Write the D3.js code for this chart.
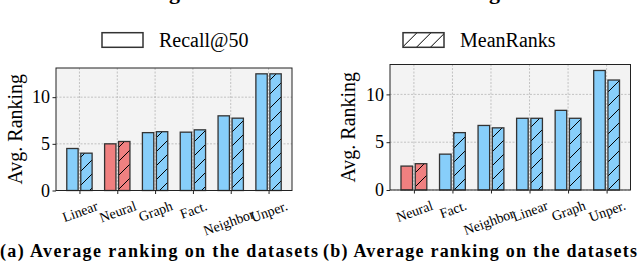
<!DOCTYPE html>
<html>
<head>
<meta charset="utf-8">
<script src="https://cdn.jsdelivr.net/npm/d3@7"></script>
<style>
  body { margin: 0; background: #fff; }
  svg { display: block; }
  svg text { font-family: "Liberation Serif", "Times New Roman", Times, "DejaVu Serif", serif; }
</style>
</head>
<body>
<svg id="chart" width="640" height="261"></svg>
<script>
// Panel (a)
const methodsA = ["Linear", "Neural", "Graph", "Fact.", "Neighbor", "Unper."];
const recallA = [4.5, 5.0, 6.2, 6.25, 8.0, 12.5];
const meanRanksA = [4.0, 5.25, 6.3, 6.5, 7.75, 12.5];

// Panel (b)
const methodsB = ["Neural", "Fact.", "Neighbor", "Linear", "Graph", "Unper."];
const recallB = [2.5, 3.75, 6.75, 7.5, 8.33, 12.5];
const meanRanksB = [2.75, 6.0, 6.5, 7.5, 7.5, 11.5];

const yTicks = [0, 5, 10];
const yMax = 13.125;
const seriesNames = ["Recall@50", "MeanRanks"];
const captions = ["(a) Average ranking on the datasets", "(b) Average ranking on the datasets"];

const blue = "#87cefa";
const red = "#f08080";
const edge = "#333";
const highlight = "Neural";
const dropLabels = new Set(["Neighbor"]);

const svg = d3.select("#chart");

// hatch pattern, aligned to the page like matplotlib hatches
const hatch = svg.append("defs")
  .append("pattern")
  .attr("id", "hatch")
  .attr("patternUnits", "userSpaceOnUse")
  .attr("width", 14)
  .attr("height", 14);
hatch.append("path")
  .attr("d", "M0,14L14,0M-3.5,3.5L3.5,-3.5M10.5,17.5L17.5,10.5")
  .attr("stroke", "#000")
  .attr("stroke-width", 1);

const panels = [
  { methods: methodsA, recall: recallA, mean: meanRanksA, box: [56, 68, 292, 190.5], legendX: 102, caption: captions[0], capX: 0, capW: 318, series: 0, ylabX: 21.5, titleX: 180 },
  { methods: methodsB, recall: recallB, mean: meanRanksB, box: [390, 64.5, 630.5, 190], legendX: 403, caption: captions[1], capX: 323, capW: 314, series: 1, ylabX: 355, titleX: 500 },
];

panels.forEach((p) => {
  const [x0, y0, x1, y1] = p.box;

  const x = d3.scalePoint().domain(p.methods).range([x0, x1]).padding(0.62);
  const y = d3.scaleLinear().domain([0, yMax]).range([y1, y0]);
  const step = x.step();
  const bw = step * 0.3;
  const off = step * 0.185;

  const g = svg.append("g");

  // cut-off title above the panel, only the descender shows
  g.append("text")
    .attr("x", p.titleX)
    .attr("y", -1)
    .attr("text-anchor", "end")
    .style("font-size", "22px")
    .style("font-weight", "bold")
    .text("Ranking");

  // background
  g.append("rect")
    .attr("x", x0).attr("y", y0)
    .attr("width", x1 - x0).attr("height", y1 - y0)
    .attr("fill", "#f3f3f3");

  // grid
  g.selectAll(".vgrid")
    .data(p.methods)
    .enter()
    .append("line")
    .attr("x1", (d) => x(d)).attr("x2", (d) => x(d))
    .attr("y1", y0).attr("y2", y1)
    .attr("stroke", "#b5b5b5")
    .attr("stroke-width", 0.8)
    .attr("stroke-dasharray", "2,1.5");
  g.selectAll(".hgrid")
    .data(yTicks)
    .enter()
    .append("line")
    .attr("x1", x0).attr("x2", x1)
    .attr("y1", (d) => y(d)).attr("y2", (d) => y(d))
    .attr("stroke", "#b5b5b5")
    .attr("stroke-width", 0.8)
    .attr("stroke-dasharray", "2,1.5");

  const colorOf = (m) => (m === highlight ? red : blue);

  // Recall@50 bars (solid)
  g.selectAll(".bar-r")
    .data(p.methods)
    .enter()
    .append("rect")
    .attr("x", (d) => x(d) - off - bw / 2)
    .attr("y", (d, i) => y(p.recall[i]))
    .attr("width", bw)
    .attr("height", (d, i) => y(0) - y(p.recall[i]))
    .attr("fill", (d) => colorOf(d))
    .attr("stroke", edge)
    .attr("stroke-width", 1.3);

  // MeanRanks bars (hatched)
  const mean = g.selectAll(".bar-m")
    .data(p.methods)
    .enter()
    .append("g");
  mean.append("rect")
    .attr("x", (d) => x(d) + off - bw / 2)
    .attr("y", (d, i) => y(p.mean[i]))
    .attr("width", bw)
    .attr("height", (d, i) => y(0) - y(p.mean[i]))
    .attr("fill", (d) => colorOf(d));
  mean.append("rect")
    .attr("x", (d) => x(d) + off - bw / 2)
    .attr("y", (d, i) => y(p.mean[i]))
    .attr("width", bw)
    .attr("height", (d, i) => y(0) - y(p.mean[i]))
    .attr("fill", "url(#hatch)")
    .attr("stroke", edge)
    .attr("stroke-width", 1.3);

  // frame
  g.append("rect")
    .attr("x", x0).attr("y", y0)
    .attr("width", x1 - x0).attr("height", y1 - y0)
    .attr("fill", "none")
    .attr("stroke", "#222")
    .attr("stroke-width", 1);

  // y axis
  const yAxis = g.append("g")
    .attr("transform", `translate(${x0},0)`)
    .call(d3.axisLeft(y).tickValues(yTicks).tickSize(3.5).tickPadding(2.5));
  yAxis.attr("font-family", null);
  yAxis.select(".domain").remove();
  yAxis.selectAll("line").attr("stroke", "#222");
  yAxis.selectAll("text")
    .attr("fill", "#000")
    .style("font-size", "18px");

  g.append("text")
    .attr("transform", `translate(${p.ylabX},${(y0 + y1) / 2}) rotate(-90)`)
    .attr("text-anchor", "middle")
    .style("font-size", "20px")
    .text("Avg. Ranking");

  // x axis
  const fs = 14;
  const ang = (20 * Math.PI) / 180;
  const xAxis = g.append("g")
    .attr("transform", `translate(0,${y1})`)
    .call(d3.axisBottom(x).tickSize(3.5).tickPadding(0));
  xAxis.attr("font-family", null);
  xAxis.select(".domain").remove();
  xAxis.selectAll("line").attr("stroke", "#222");
  xAxis.selectAll("text")
    .attr("fill", "#000")
    .attr("y", 0)
    .attr("dy", "0.35em")
    .style("font-size", fs + "px")
    .attr("text-anchor", "middle")
    .attr("transform", function (d) {
      const w = this.getComputedTextLength();
      let cy = 7 + (w * Math.sin(ang) + fs * 1.15 * Math.cos(ang)) / 2;
      let cx = 0;
      if (dropLabels.has(d)) {
        cy += 8;
        cx -= 2.5;
      }
      return `translate(${cx},${cy}) rotate(-20)`;
    });

  // legend
  const lg = g.append("g").attr("transform", `translate(${p.legendX},32.7)`);
  lg.append("rect")
    .attr("width", 41)
    .attr("height", 14.6)
    .attr("fill", p.series === 0 ? "#fff" : "url(#hatch)")
    .attr("stroke", edge)
    .attr("stroke-width", 1.5);
  lg.append("text")
    .attr("x", 57)
    .attr("y", 13.8)
    .style("font-size", "20px")
    .text(seriesNames[p.series]);

  // caption
  g.append("text")
    .attr("x", p.capX)
    .attr("y", 257)
    .attr("textLength", p.capW)
    .attr("lengthAdjust", "spacing")
    .style("font-size", "18px")
    .style("font-weight", "bold")
    .text(p.caption);
});
</script>
</body>
</html>
